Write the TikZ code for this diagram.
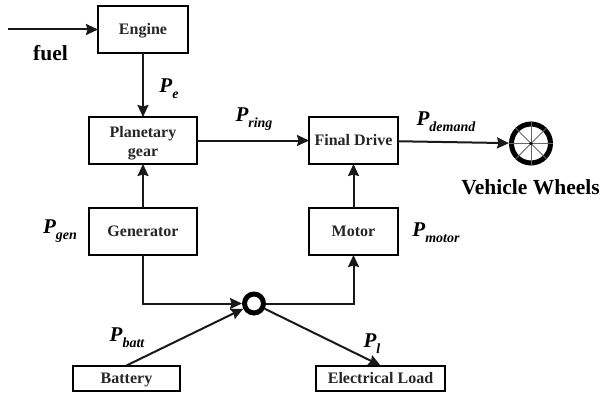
\documentclass[tikz,border=0pt]{standalone}
\usepackage{fontspec}
\setmainfont{Liberation Serif}
\usepackage{tikz}
\usetikzlibrary{arrows.meta, positioning}
\tikzstyle{block} = [rectangle, draw, line width=2pt, minimum width=108pt, minimum height=47pt,
  align=center, inner sep=0pt, outer sep=0pt, text height=10pt, text depth=0pt,
  font=\fontsize{16}{20}\selectfont\bfseries, text=black!85]
\tikzstyle{flat} = [block, minimum height=25pt]
\tikzstyle{arrow} = [line width=2pt, black!90, -{Stealth[length=12pt, width=11pt, inset=1.5pt]}]
\tikzstyle{power} = [inner sep=0pt, font=\fontsize{21}{24}\selectfont\bfseries\itshape]
\tikzstyle{caption} = [inner sep=0pt, font=\fontsize{21.5}{24}\selectfont\bfseries]
\newcommand{\pw}[1]{P\raisebox{-0.28em}{\fontsize{14}{16}\selectfont #1}}

\begin{document}
\begin{tikzpicture}[x=1pt, y=-1pt]
    \path[use as bounding box] (0,0) rectangle (603,396);
    \node[block, minimum width=90pt] (engine) at (143,29.5) {Engine};
    \node[block, below=64pt of engine, text height=33pt] (gear) {Planetary \\ gear};
    \node[block, below=44pt of gear] (gen) {Generator};
    \node[block, minimum width=89pt, right=112pt of gear] (drive) {Final Drive};
    \node[block, minimum width=89pt, below=44pt of drive] (motor) {Motor};
    \node[circle, draw, line width=5pt, minimum size=19pt, inner sep=0pt, outer sep=2.5pt] (junc) at (254,303.5) {};
    \node[flat, minimum width=107pt] (batt) at (126.5,378) {Battery};
    \node[flat, minimum width=129pt] (load) at (380.5,378) {Electrical Load};
    \node[circle, draw, line width=5pt, minimum size=39pt, inner sep=0pt, outer sep=2.5pt] (wheel) at (531,143.5) {};
    \coordinate (fuelin) at (8,29.5);
    % wheel spokes
    \foreach \a in {0,45,...,315}
      \draw[line width=0.8pt, black!60] (wheel.center) -- (wheel.\a);
    \fill[black] (wheel.center) circle (1.6pt);
    \draw[arrow] (fuelin) -- (engine);
    \draw[arrow] (engine) -- (gear);
    \draw[arrow] (gen) -- (gear);
    \draw[arrow] (gear) -- (drive);
    \draw[arrow] (motor) -- (drive);
    \draw[arrow] (drive) -- (wheel);
    \draw[arrow] (gen.south) |- (junc);
    \draw[arrow] (junc) -| (motor.south);
    \draw[arrow] (batt.north) -- (junc);
    \draw[arrow] (junc) -- (load.north);
    \node[caption] (fueltxt) at (50.5,53) {fuel};
    \node[caption] (wheeltxt) at (530.5,187) {Vehicle Wheels};
    \node[power] (pe) at (169,89) {\pw{e}};
    \node[power] (pring) at (254,119) {\pw{ring}};
    \node[power] (pdemand) at (446,122) {\pw{demand}};
    \node[power] (pgen) at (60,231) {\pw{gen}};
    \node[power] (pmotor) at (436,233) {\pw{motor}};
    \node[power] (pbatt) at (127,338) {\pw{batt}};
    \node[power] (pl) at (372,344) {\pw{l}};
  \end{tikzpicture}
\end{document}
